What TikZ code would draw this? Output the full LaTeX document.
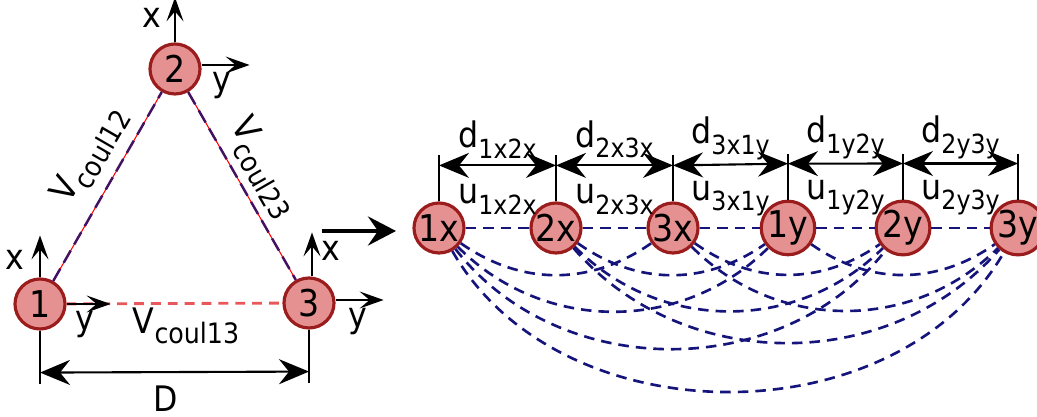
\documentclass[tikz,border=0pt]{standalone}
\usepackage{fontspec}
\setmainfont{DejaVu Sans Condensed}
\usetikzlibrary{arrows.meta}

\definecolor{ballfill}{RGB}{229,145,145}
\definecolor{ballline}{RGB}{155,28,28}
\definecolor{navyline}{RGB}{20,20,122}
\definecolor{coulred}{RGB}{232,88,90}

% lowered index text, size given in pt
\newcommand{\idxtxt}[2]{\raisebox{-0.55ex}{\fontsize{#1}{#1}\selectfont #2}}

\begin{document}
\begin{tikzpicture}[font=\fontsize{10}{12}\selectfont,
    ball/.style={circle, draw=ballline, fill=ballfill, line width=0.9pt, minimum size=0.5cm, inner sep=0pt, font=\fontsize{10.5}{12}\selectfont},
    axisarrow/.style={-{Stealth[length=2.4mm, width=1.7mm, inset=1mm]}, line width=0.45pt},
    dimarrow/.style={{Stealth[length=3mm, width=2.5mm, inset=1mm]}-{Stealth[length=3mm, width=2.5mm, inset=1mm]}, line width=0.6pt},
    coulline/.style={navyline, line width=0.75pt, dash pattern=on 3pt off 2pt},
    label/.style={inner sep=0pt}]
    \useasboundingbox (0,0) rectangle (10.37,-4.17);

    % Triangle
    \node[ball] (n1) at (0.40, -3.04) {1};
    \node[ball] (n2) at (1.75, -0.69) {2};
    \node[ball] (n3) at (3.09, -3.03) {3};
    \draw[red, line width=0.3pt] (n1) -- (n2);
    \draw[navyline!80!red, line width=0.7pt, dash pattern=on 4pt off 2pt] (n1) -- (n2);
    \draw[red, line width=0.3pt] (n2) -- (n3);
    \draw[navyline!80!red, line width=0.7pt, dash pattern=on 4pt off 2pt] (n2) -- (n3);
    \draw[coulred, line width=0.8pt, dash pattern=on 2.8pt off 2pt] (n1) -- (n3);

    \node[label, rotate=60] (v12) at (0.90, -1.55) {V\idxtxt{8}{coul12}};
    \node[label, rotate=-60] (v23) at (2.63, -1.68) {V\idxtxt{8}{coul23}};
    \node[label] (v13) at (1.86, -3.26) {V\idxtxt{8}{coul13}};

    % Axes
    \draw[axisarrow] (n1.north) -- ++(0, 0.42);
    \draw[axisarrow] (n1.east) -- ++(0.44, 0);
    \node[label] (x1) at (0.15, -2.60) {x};
    \node[label] (y1) at (0.85, -3.25) {y};
    \draw[axisarrow] (n2.north) -- ++(0, 0.45);
    \draw[axisarrow] ([yshift=0.04cm]n2.east) -- ++(0.48, 0);
    \node[label] (x2) at (1.52, -0.18) {x};
    \node[label] (y2) at (2.22, -0.86) {y};
    \draw[axisarrow] ([xshift=0.03cm]n3.north) -- ++(0, 0.44);
    \draw[axisarrow] ([yshift=0.03cm]n3.east) -- ++(0.48, 0);
    \node[label] (x3) at (3.31, -2.51) {x};
    \node[label] (y3) at (3.58, -3.22) {y};

    % Distance D
    \draw[line width=0.6pt] (n1.south) -- ++(0, -0.53);
    \draw[line width=0.6pt] (n3.south) -- ++(0, -0.53);
    \draw[dimarrow] ([yshift=-0.42cm]n1.south) -- ([yshift=-0.42cm]n3.south);
    \node[label] (dist) at (1.66, -3.99) {D};

    % Arrow between the two parts
    \draw[-{Stealth[length=2.8mm, width=2.9mm, inset=1mm]}, line width=1.2pt] (3.22, -2.31) -- (3.96, -2.31);

    % Chain
    \node[ball] (n1x) at (4.39, -2.28) {1x};
    \node[ball] (n2x) at (5.56, -2.28) {2x};
    \node[ball] (n3x) at (6.73, -2.28) {3x};
    \node[ball] (n1y) at (7.88, -2.28) {1y};
    \node[ball] (n2y) at (9.03, -2.28) {2y};
    \node[ball] (n3y) at (10.18, -2.28) {3y};

    \draw (n1x.north) -- ++(0, 0.46);
    \draw (n2x.north) -- ++(0, 0.46);
    \draw (n3x.north) -- ++(0, 0.46);
    \draw (n1y.north) -- ++(0, 0.46);
    \draw (n2y.north) -- ++(0, 0.46);
    \draw (n3y.north) -- ++(0, 0.46);

    \draw[dimarrow] ([yshift=0.36cm]n1x.north) -- ([yshift=0.36cm]n2x.north)
        node[midway, yshift=0.26cm] (d12) {d\idxtxt{7.5}{1x2x}}
        node[midway, yshift=-0.34cm] (u12) {u\idxtxt{7.5}{1x2x}};
    \draw[dimarrow] ([yshift=0.36cm]n2x.north) -- ([yshift=0.36cm]n3x.north)
        node[midway, yshift=0.26cm] (d23) {d\idxtxt{7.5}{2x3x}}
        node[midway, yshift=-0.34cm] (u23) {u\idxtxt{7.5}{2x3x}};
    \draw[dimarrow] ([yshift=0.36cm]n3x.north) -- ([yshift=0.36cm]n1y.north)
        node[midway, yshift=0.26cm] (d31) {d\idxtxt{7.5}{3x1y}}
        node[midway, yshift=-0.34cm] (u31) {u\idxtxt{7.5}{3x1y}};
    \draw[dimarrow] ([yshift=0.36cm]n1y.north) -- ([yshift=0.36cm]n2y.north)
        node[midway, yshift=0.26cm] (d45) {d\idxtxt{7.5}{1y2y}}
        node[midway, yshift=-0.34cm] (u45) {u\idxtxt{7.5}{1y2y}};
    \draw[dimarrow] ([yshift=0.36cm]n2y.north) -- ([yshift=0.36cm]n3y.north)
        node[midway, yshift=0.26cm] (d56) {d\idxtxt{7.5}{2y3y}}
        node[midway, yshift=-0.34cm] (u56) {u\idxtxt{7.5}{2y3y}};

    % Coulomb couplings
    \draw[coulline] (n1x) -- (n2x);
    \draw[coulline] (n2x) -- (n3x);
    \draw[coulline] (n3x) -- (n1y);
    \draw[coulline] (n1y) -- (n2y);
    \draw[coulline] (n2y) -- (n3y);

    \draw[coulline] (n1x) to[bend right=35] (n3x);
    \draw[coulline] (n2x) to[bend right=35] (n1y);
    \draw[coulline] (n3x) to[bend right=35] (n2y);
    \draw[coulline] (n1y) to[bend right=35] (n3y);
    \draw[coulline] (n1x) to[bend right=45] (n1y);
    \draw[coulline] (n2x) to[bend right=45] (n2y);
    \draw[coulline] (n3x) to[bend right=45] (n3y);
    \draw[coulline] (n1x) to[bend right=52] (n2y);
    \draw[coulline] (n2x) to[bend right=49] (n3y);
    \draw[coulline] (n1x) to[bend right=60] (n3y);
\end{tikzpicture}
\end{document}
